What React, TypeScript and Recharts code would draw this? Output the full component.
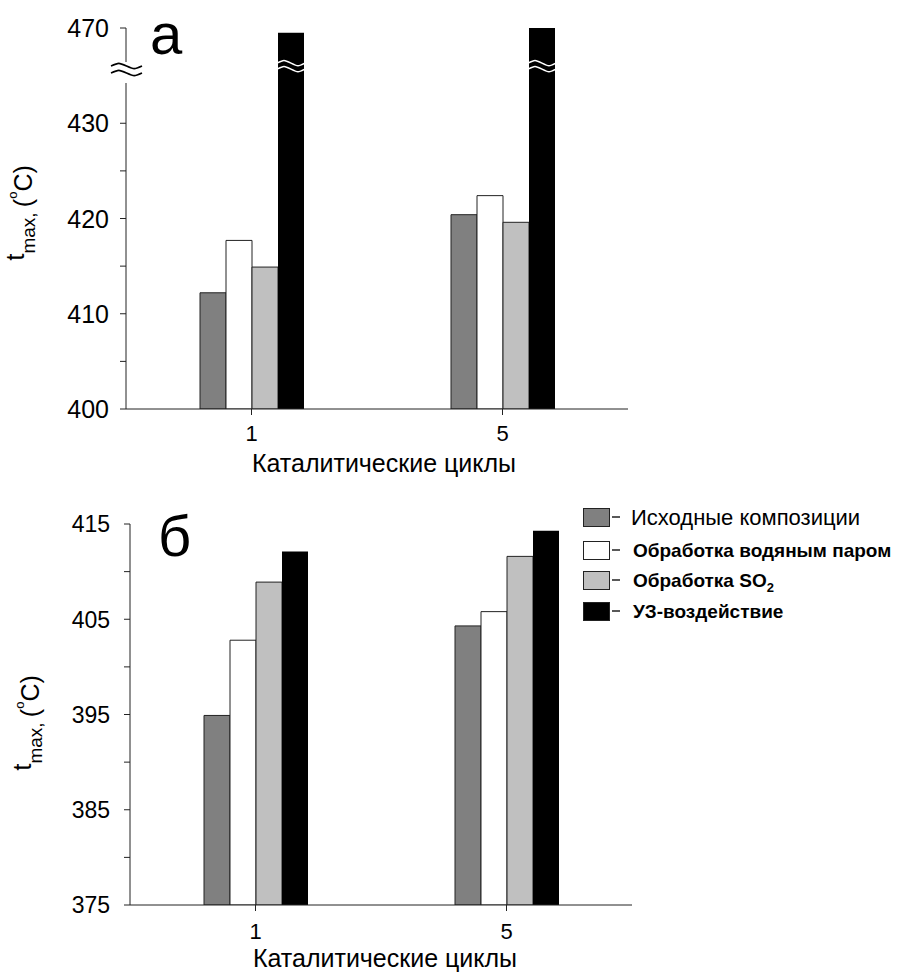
import React from 'react';
import { BarChart, Bar, XAxis, YAxis, Legend } from 'recharts';

// ---- data ----
const cycles = ['1', '5'];
const seriesNames = ['Исходные композиции', 'Обработка водяным паром', 'Обработка SO2', 'УЗ-воздействие'];

// panel а (°C)
const topInitial = [412.2, 420.4];
const topSteam = [417.7, 422.4];
const topSO2 = [414.9, 419.6];
const topUS = [469.5, 470.3];
const topTickValues = [400, 405, 410, 415, 420, 425, 430, 470];

// panel б (°C)
const bottomInitial = [394.9, 404.3];
const bottomSteam = [402.8, 405.8];
const bottomSO2 = [408.9, 411.6];
const bottomUS = [412.1, 414.3];
const bottomTickValues = [375, 380, 385, 390, 395, 400, 405, 410, 415];

// broken axis of panel а: values above the break are shifted down by this amount
const BREAK_SHIFT = 30;
const BREAK_LIMIT = 440;
const BREAK_AT = 436;

const toDisplay = (v: number) => (v > BREAK_LIMIT ? v - BREAK_SHIFT : v);
const fromDisplay = (v: number) => (v >= BREAK_LIMIT ? v + BREAK_SHIFT : v);

const topData = cycles.map((c, i) => ({
  cycle: c,
  initial: topInitial[i],
  steam: topSteam[i],
  so2: topSO2[i],
  us: toDisplay(topUS[i]),
  usBroken: topUS[i] > BREAK_LIMIT,
}));
const bottomData = cycles.map((c, i) => ({
  cycle: c,
  initial: bottomInitial[i],
  steam: bottomSteam[i],
  so2: bottomSO2[i],
  us: bottomUS[i],
}));

const FONT = '"Liberation Sans", Arial, sans-serif';
const AX = '#222';
const colors = ['#808080', '#ffffff', '#c0c0c0', '#000000'];

const wave = (x0: number, y: number, w: number, a = 3.5) => {
  const q = w / 4;
  return `M ${x0} ${y} C ${x0 + q} ${y - a}, ${x0 + q} ${y - a}, ${x0 + 2 * q} ${y} S ${x0 + 3 * q} ${y + a}, ${x0 + 4 * q} ${y}`;
};

const UsBarShape = (props: any) => {
  const { x, y, width, height, payload } = props;
  const disp = payload.us;
  const bottom = y + height;
  const by = bottom - (BREAK_AT - 400) * (height / (disp - 400));
  return (
    <g>
      <rect x={x} y={y} width={width} height={height} fill="#000" />
      {payload.usBroken ? (
        <g>
          <path d={wave(x - 1, by - 3, width + 2)} stroke="#fff" strokeWidth={1.6} fill="none" />
          <path d={wave(x - 1, by + 3, width + 2)} stroke="#fff" strokeWidth={1.6} fill="none" />
        </g>
      ) : null}
    </g>
  );
};

const TopTick = (props: any) => {
  const { x, y, payload } = props;
  const v = payload.value;
  const major = v % 10 === 0;
  const axisX = x + 17;
  return (
    <g>
      {major ? (
        <text x={x} y={y} dy="0.36em" textAnchor="end" fontSize={25} fill="#000" fontFamily={FONT}>
          {fromDisplay(v)}
        </text>
      ) : null}
      {v === BREAK_LIMIT ? (
        <g>
          <rect x={axisX - 5} y={y + 34} width={10} height={21} fill="#fff" />
          <path d={wave(axisX - 15, y + 38, 31)} stroke="#000" strokeWidth={1.6} fill="none" />
          <path d={wave(axisX - 15, y + 45, 31)} stroke="#000" strokeWidth={1.6} fill="none" />
        </g>
      ) : null}
    </g>
  );
};

const BottomTick = (props: any) => {
  const { x, y, payload } = props;
  const v = payload.value;
  const major = (v - 375) % 10 === 0;
  if (!major) return <g />;
  return (
    <text x={x} y={y} dy="0.36em" textAnchor="end" fontSize={23} fill="#000" fontFamily={FONT}>
      {v}
    </text>
  );
};

const legendRows = [18, 51, 81, 112];

const LegendContent = () => (
  <svg width={314} height={135} style={{ display: 'block', overflow: 'visible' }}>
    {seriesNames.map((name, i) => {
      const top = legendRows[i];
      const cy = top + 9;
      const first = i === 0;
      return (
        <g key={name}>
          <rect x={0.5} y={top + 0.5} width={26} height={18} fill={colors[i]} stroke={AX} strokeWidth={1} />
          <line x1={29} x2={37} y1={cy} y2={cy} stroke={AX} strokeWidth={1.5} />
          <text
            x={first ? 48 : 50}
            y={first ? cy + 8 : cy + 7}
            fontSize={first ? 22 : 19}
            fontWeight={first ? 'normal' : 'bold'}
            fill="#000"
            fontFamily={FONT}
          >
            {name === 'Обработка SO2' ? (
              <>
                Обработка SO
                <tspan fontSize={13} dy={5}>2</tspan>
              </>
            ) : (
              name
            )}
          </text>
        </g>
      );
    })}
  </svg>
);

const YTitle = ({ bx, cy }: { bx: number; cy: number }) => (
  <text transform={`translate(${bx},${cy}) rotate(-90)`} textAnchor="middle" fill="#000" fontFamily={FONT}>
    <tspan fontSize={26}>t</tspan>
    <tspan fontSize={19} dy={11}>max, </tspan>
    <tspan fontSize={25} dy={-3}>(</tspan>
    <tspan fontSize={13} dy={-15}>o</tspan>
    <tspan fontSize={25} dy={15}>C)</tspan>
  </text>
);

export default function App() {
  return (
    <div style={{ position: 'absolute', left: 0, top: 0, width: 897, height: 972, background: '#fff', fontFamily: FONT }}>
      <div style={{ position: 'absolute', left: 0, top: 0 }}>
        <BarChart width={897} height={480} data={topData} barGap={0} margin={{ top: 28, right: 269, bottom: 41, left: 66 }}>
          <XAxis
            dataKey="cycle"
            height={30}
            tickSize={6}
            tickMargin={10}
            axisLine={{ stroke: AX }}
            tickLine={{ stroke: AX }}
            tick={{ fontSize: 22, fill: '#000', fontFamily: FONT }}
          />
          <YAxis
            type="number"
            width={60}
            domain={[400, BREAK_LIMIT]}
            ticks={topTickValues.map(toDisplay)}
            allowDataOverflow
            interval={0}
            tickSize={6}
            tickMargin={11}
            axisLine={{ stroke: AX }}
            tickLine={{ stroke: AX }}
            tick={(p: any) => <TopTick {...p} />}
          />
          <Bar dataKey="initial" name={seriesNames[0]} fill={colors[0]} stroke={AX} strokeWidth={1} barSize={26} isAnimationActive={false} />
          <Bar dataKey="steam" name={seriesNames[1]} fill={colors[1]} stroke={AX} strokeWidth={1} barSize={26} isAnimationActive={false} />
          <Bar dataKey="so2" name={seriesNames[2]} fill={colors[2]} stroke={AX} strokeWidth={1} barSize={26} isAnimationActive={false} />
          <Bar dataKey="us" name={seriesNames[3]} fill={colors[3]} barSize={26} isAnimationActive={false} shape={(p: any) => <UsBarShape {...p} />} />
        </BarChart>
      </div>
      <div style={{ position: 'absolute', left: 0, top: 490 }}>
        <BarChart width={897} height={482} data={bottomData} barGap={0} margin={{ top: 34, right: 265, bottom: 37, left: 70 }}>
          <XAxis
            dataKey="cycle"
            height={30}
            tickSize={6}
            tickMargin={12}
            axisLine={{ stroke: AX }}
            tickLine={{ stroke: AX }}
            tick={{ fontSize: 22, fill: '#000', fontFamily: FONT }}
          />
          <YAxis
            type="number"
            width={60}
            domain={[375, 415]}
            ticks={bottomTickValues}
            allowDataOverflow
            interval={0}
            tickSize={6}
            tickMargin={14}
            axisLine={{ stroke: AX }}
            tickLine={{ stroke: AX }}
            tick={(p: any) => <BottomTick {...p} />}
          />
          <Legend
            layout="vertical"
            align="center"
            verticalAlign="middle"
            wrapperStyle={{ left: 583, top: 0, width: 314 }}
            content={() => <LegendContent />}
          />
          <Bar dataKey="initial" name={seriesNames[0]} fill={colors[0]} stroke={AX} strokeWidth={1} barSize={26} isAnimationActive={false} />
          <Bar dataKey="steam" name={seriesNames[1]} fill={colors[1]} stroke={AX} strokeWidth={1} barSize={26} isAnimationActive={false} />
          <Bar dataKey="so2" name={seriesNames[2]} fill={colors[2]} stroke={AX} strokeWidth={1} barSize={26} isAnimationActive={false} />
          <Bar dataKey="us" name={seriesNames[3]} fill={colors[3]} barSize={26} isAnimationActive={false} />
        </BarChart>
      </div>
      <svg
        width={897}
        height={972}
        style={{ position: 'absolute', left: 0, top: 0, pointerEvents: 'none' }}
      >
        <text x={150} y={54} fontSize={58} fill="#000" fontFamily={FONT}>а</text>
        <text x={158} y={556} fontSize={58} fill="#000" fontFamily={FONT}>б</text>
        <text x={384} y={472} fontSize={25} textAnchor="middle" fill="#000" fontFamily={FONT}>Каталитические циклы</text>
        <text x={385} y={967} fontSize={25} textAnchor="middle" fill="#000" fontFamily={FONT}>Каталитические циклы</text>
        <YTitle bx={24} cy={213} />
        <YTitle bx={31} cy={723} />
      </svg>
    </div>
  );
}
